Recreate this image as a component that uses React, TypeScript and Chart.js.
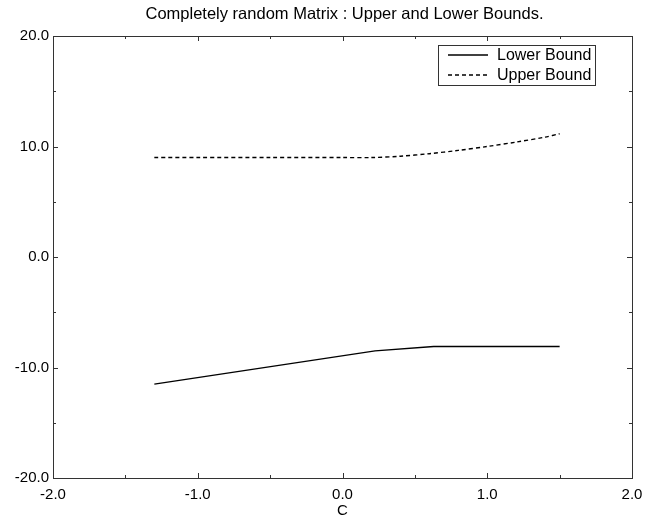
import React, { useEffect, useRef } from "react";
import { Chart, registerables } from "chart.js";

Chart.register(...registerables);

const TITLE = "Completely random Matrix : Upper and Lower Bounds.";
const X_LABEL = "C";
const lowerX = [-1.3, 0.225, 0.63, 1.5];
const lowerY = [-11.5, -8.5, -8.1, -8.1];
const upperX = [-1.3, -1.0, -0.5, 0.0, 0.2, 0.4, 0.6, 0.8, 1.0, 1.2, 1.4, 1.5];
const upperY = [9.0, 9.0, 9.0, 9.0, 9.0, 9.12, 9.35, 9.65, 10.0, 10.4, 10.85, 11.15];
const X_MIN = -2, X_MAX = 2, X_STEP = 1, X_MINOR = 0.5;
const Y_MIN = -20, Y_MAX = 20, Y_STEP = 10, Y_MINOR = 5;

const FONT = "'Liberation Sans', Arial, Helvetica, sans-serif";

const framePlugin = {
  id: "frame",
  afterDraw(chart: any) {
    const { ctx, chartArea: a, scales } = chart;
    const xs = scales.x, ys = scales.y;
    ctx.save();
    ctx.strokeStyle = "#333";
    ctx.lineWidth = 1;
    ctx.strokeRect(Math.round(a.left) + 0.5, Math.round(a.top) + 0.5, Math.round(a.right - a.left), Math.round(a.bottom - a.top));
    ctx.beginPath();
    for (let v = X_MIN; v <= X_MAX + 1e-9; v += X_MINOR) {
      const major = Math.abs(v / X_STEP - Math.round(v / X_STEP)) < 1e-6;
      const L = major ? 5 : 3;
      const px = Math.round(xs.getPixelForValue(v)) + 0.5;
      ctx.moveTo(px, a.bottom); ctx.lineTo(px, a.bottom - L);
      ctx.moveTo(px, a.top); ctx.lineTo(px, a.top + L);
    }
    for (let v = Y_MIN; v <= Y_MAX + 1e-9; v += Y_MINOR) {
      const major = Math.abs(v / Y_STEP - Math.round(v / Y_STEP)) < 1e-6;
      const L = major ? 5 : 3;
      const py = Math.round(ys.getPixelForValue(v)) + 0.5;
      ctx.moveTo(a.left, py); ctx.lineTo(a.left + L, py);
      ctx.moveTo(a.right, py); ctx.lineTo(a.right - L, py);
    }
    ctx.stroke();
    ctx.fillStyle = "#000";
    ctx.font = `16.5px ${FONT}`;
    ctx.textAlign = "center";
    ctx.textBaseline = "middle";
    ctx.fillText(TITLE, 344.5, 14);
    const lx = 438, ly = 45, lw = 157, lh = 40;
    ctx.fillStyle = "#fff";
    ctx.fillRect(lx, ly, lw, lh);
    ctx.strokeStyle = "#333";
    ctx.strokeRect(lx + 0.5, ly + 0.5, lw, lh);
    chart.data.datasets.forEach((ds: any, i: number) => {
      const yy = ly + 10 + i * 20;
      ctx.save();
      ctx.strokeStyle = ds.borderColor;
      ctx.lineWidth = 1.3;
      ctx.setLineDash(ds.borderDash || []);
      ctx.beginPath();
      ctx.moveTo(lx + 10, yy); ctx.lineTo(lx + 50, yy);
      ctx.stroke();
      ctx.restore();
      ctx.fillStyle = "#000";
      ctx.font = `16px ${FONT}`;
      ctx.textAlign = "left";
      ctx.textBaseline = "middle";
      ctx.fillText(ds.label, lx + 59, yy + 1);
    });
    ctx.restore();
  },
};

export default function App() {
  const ref = useRef<HTMLCanvasElement>(null);
  useEffect(() => {
    document.body.style.margin = "0";
    const chart = new Chart(ref.current!, {
      type: "line",
      data: {
        datasets: [
          {
            label: "Lower Bound",
            data: lowerX.map((x, i) => ({ x, y: lowerY[i] })),
            borderColor: "#000",
            borderWidth: 1.4,
            pointRadius: 0,
            tension: 0,
          },
          {
            label: "Upper Bound",
            data: upperX.map((x, i) => ({ x, y: upperY[i] })),
            borderColor: "#000",
            borderWidth: 1.4,
            borderDash: [4, 3],
            pointRadius: 0,
            tension: 0.3,
          },
        ],
      },
      options: {
        animation: false,
        responsive: false,
        maintainAspectRatio: false,
        layout: { padding: { left: 0, right: 13, top: 36, bottom: 0 } },
        plugins: { legend: { display: false }, title: { display: false }, tooltip: { enabled: false } },
        scales: {
          x: {
            type: "linear",
            min: X_MIN,
            max: X_MAX,
            grid: { display: false, drawTicks: false },
            border: { display: false },
            ticks: {
              stepSize: X_STEP,
              padding: 8,
              color: "#000",
              font: { family: FONT, size: 15 },
              callback: (v: any) => Number(v).toFixed(1),
              maxRotation: 0,
            },
            title: { display: true, text: X_LABEL, color: "#000", font: { family: FONT, size: 15 }, padding: { top: 0, bottom: 0 } },
            afterFit: (s: any) => { s.height = 42; s.paddingLeft = 0; s.paddingRight = 0; },
          },
          y: {
            type: "linear",
            min: Y_MIN,
            max: Y_MAX,
            grid: { display: false, drawTicks: false },
            border: { display: false },
            ticks: {
              stepSize: Y_STEP,
              padding: 4,
              color: "#000",
              font: { family: FONT, size: 15 },
              callback: (v: any) => Number(v).toFixed(1),
            },
            afterFit: (s: any) => { s.width = 53; s.paddingTop = 0; s.paddingBottom = 0; },
          },
        },
      },
      plugins: [framePlugin],
    });
    return () => chart.destroy();
  }, []);
  return (
    <div style={{ width: 645, height: 520 }}>
      <canvas ref={ref} width={645} height={520} style={{ display: "block" }} />
    </div>
  );
}
